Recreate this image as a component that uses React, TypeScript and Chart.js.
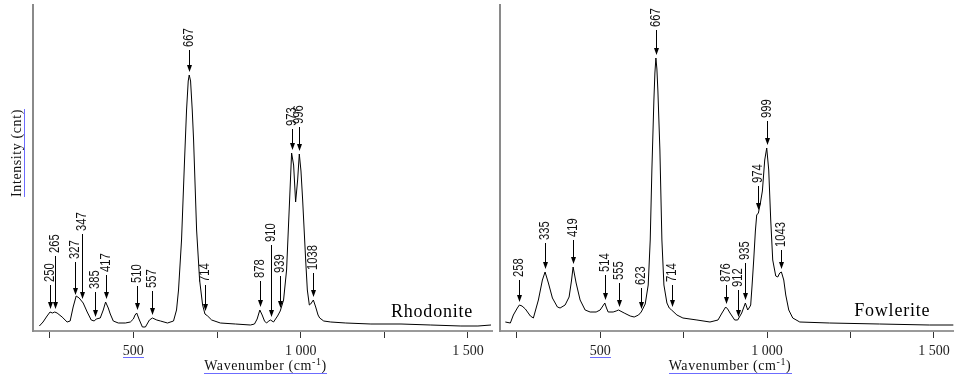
import React, { useEffect, useRef } from "react";
import { Chart, registerables } from "chart.js";
Chart.register(...registerables);

// ---- data (wavenumber cm-1, intensity arbitrary counts) ----
const rhodoniteWavenumber = [
  219, 230, 242, 251, 258, 265, 272, 287, 302, 311, 320, 329, 338, 350, 362, 374, 383, 389, 401, 410,
  417, 425, 431, 440, 455, 476, 491, 500, 505, 510, 518, 527, 536, 548, 557, 570, 581, 602, 620, 629,
  635, 644, 653, 659, 664, 667, 671, 676, 680, 689, 698, 707, 714, 722, 734, 760, 805, 850, 862, 870,
  878, 885, 892, 898, 905, 910, 919, 931, 939, 949, 958, 967, 973, 979, 985, 991, 996, 1001, 1006, 1015,
  1020, 1026, 1030, 1038, 1045, 1052, 1057, 1069, 1090, 1135, 1210, 1300, 1389, 1479, 1530, 1569,
];
const rhodoniteIntensity = [
  5, 9, 15, 19, 18, 19, 18, 14, 9, 10, 24, 35, 33, 28, 19, 11, 10, 12, 13, 21,
  29, 23, 17, 10, 8, 8, 9, 12, 16, 18, 11, 4, 4, 11, 13, 11, 10, 8, 10, 21,
  41, 91, 171, 221, 250, 256, 250, 221, 191, 101, 51, 26, 17, 15, 11, 8, 7, 6, 7, 12,
  21, 16, 10, 8, 10, 11, 9, 15, 20, 31, 61, 131, 178, 166, 129, 151, 177, 160, 131, 71,
  41, 26, 27, 31, 24, 16, 13, 10, 9, 8, 7, 7, 6, 5, 5, 6,
];
const fowleriteWavenumber = [
  216, 231, 240, 252, 258, 266, 276, 291, 300, 315, 327, 335, 345, 357, 372, 380, 395, 407, 414, 419,
  428, 440, 455, 470, 488, 500, 508, 514, 519, 524, 539, 548, 555, 572, 590, 602, 615, 623, 635, 644,
  650, 655, 661, 664, 667, 670, 673, 679, 685, 691, 700, 707, 714, 730, 748, 790, 829, 853, 865, 876,
  882, 889, 903, 912, 924, 935, 942, 948, 951, 955, 960, 965, 969, 974, 980, 986, 993, 999, 1005, 1011,
  1017, 1026, 1032, 1038, 1043, 1050, 1056, 1065, 1077, 1098, 1187, 1337, 1486, 1558,
];
const fowleriteIntensity = [
  9, 8, 16, 23, 26, 25, 22, 15, 13, 31, 51, 59, 48, 33, 24, 23, 26, 34, 50, 64,
  48, 31, 21, 19, 19, 21, 25, 28, 23, 19, 19, 20, 21, 18, 15, 14, 16, 19, 27, 46,
  91, 161, 231, 258, 273, 262, 240, 181, 91, 46, 28, 23, 21, 16, 13, 11, 9, 11, 18, 24,
  22, 18, 11, 11, 18, 28, 21, 24, 26, 45, 71, 100, 116, 118, 128, 140, 171, 183, 161, 111,
  71, 55, 54, 58, 59, 51, 36, 21, 13, 9, 8, 7, 6, 6,
];

// peak annotations
const rhodonitePeaks = [250, 265, 327, 347, 385, 417, 510, 557, 667, 714, 878, 910, 939, 973, 996, 1038];
const fowleritePeaks = [258, 335, 419, 514, 555, 623, 667, 714, 876, 912, 935, 974, 999, 1043];

// label offsets above the curve (layout only)
const rhodoniteLabelLift = [30, 59, 39, 71, 31, 30, 30, 30, 28, 32, 32, 78, 38, 27, 30, 30];
const fowleriteLabelLift = [28, 32, 30, 31, 30, 27, 31, 28, 25, 33, 43, 30, 30, 25];

const xTickValues = [250, 500, 750, 1000, 1250, 1500];
const xTickLabels = ["", "500", "", "1 000", "", "1 500"];
const yTitle = "Intensity (cnt)";
const xTitleMain = "Wavenumber (cm";
const xTitleSup = "-1";
const xTitleEnd = ")";

const SERIF = '"Liberation Serif", "Times New Roman", serif';
const SANS = '"Liberation Sans", Arial, sans-serif';
const LINK_BLUE = "#6c6cff";

function interp(xs: number[], ys: number[], v: number): number {
  for (let i = 0; i < xs.length - 1; i++) {
    if (v >= xs[i] && v <= xs[i + 1]) {
      return ys[i] + ((ys[i + 1] - ys[i]) * (v - xs[i])) / (xs[i + 1] - xs[i]);
    }
  }
  return ys[ys.length - 1];
}

type Panel = {
  id: string;
  wn: number[];
  inten: number[];
  peaks: number[];
  lifts: number[];
  name: string;
  nameAt: [number, number];
  xMin: number;
  xMax: number;
  padLeft: number;
  padRight: number;
  showYTitle: boolean;
};

function makePlugin(p: Panel) {
  return {
    id: "annot_" + p.id,
    afterDraw(chart: any) {
      const { ctx, chartArea } = chart;
      const xs = chart.scales.x;
      const ys = chart.scales.y;
      ctx.save();
      // peak arrows and labels
      p.peaks.forEach((pk, i) => {
        const val = interp(p.wn, p.inten, pk);
        const px = Math.round(xs.getPixelForValue(pk)) + 0.5;
        const py = ys.getPixelForValue(val);
        const tip = Math.round(py - 3);
        const textBottom = Math.round(py - p.lifts[i]);
        ctx.strokeStyle = "#000";
        ctx.fillStyle = "#000";
        ctx.lineWidth = 1;
        ctx.beginPath();
        ctx.moveTo(px, textBottom + 3);
        ctx.lineTo(px, tip - 4);
        ctx.stroke();
        ctx.beginPath();
        ctx.moveTo(px, tip);
        ctx.lineTo(px - 2.5, tip - 7);
        ctx.lineTo(px + 2.5, tip - 7);
        ctx.closePath();
        ctx.fill();
        ctx.save();
        ctx.translate(px, textBottom);
        ctx.rotate(-Math.PI / 2);
        ctx.scale(0.8, 1);
        ctx.font = "14px " + SANS;
        ctx.fillStyle = "#111";
        ctx.textAlign = "left";
        ctx.textBaseline = "middle";
        ctx.fillText(String(pk), 0, 0);
        ctx.restore();
      });

      // panel name
      ctx.font = "18px " + SERIF;
      (ctx as any).letterSpacing = "0.8px";
      ctx.fillStyle = "#000";
      ctx.textAlign = "left";
      ctx.textBaseline = "alphabetic";
      ctx.fillText(p.name, xs.getPixelForValue(p.nameAt[0]), ys.getPixelForValue(p.nameAt[1]));

      // x title with superscript and underline
      (ctx as any).letterSpacing = "0.6px";
      ctx.font = "14px " + SERIF;
      const wMain = ctx.measureText(xTitleMain).width;
      const wEnd = ctx.measureText(xTitleEnd).width;
      ctx.font = "10px " + SERIF;
      const wSup = ctx.measureText(xTitleSup).width;
      const total = wMain + wSup + wEnd;
      const cx = (chartArea.left + chartArea.right) / 2 + 3;
      const x0 = cx - total / 2;
      const base = 370;
      ctx.fillStyle = "#111";
      ctx.font = "14px " + SERIF;
      ctx.fillText(xTitleMain, x0, base);
      ctx.font = "10px " + SERIF;
      ctx.fillText(xTitleSup, x0 + wMain, base - 5);
      ctx.font = "14px " + SERIF;
      ctx.fillText(xTitleEnd, x0 + wMain + wSup, base);
      ctx.fillStyle = LINK_BLUE;
      ctx.fillRect(Math.round(x0), 373, Math.round(total), 1);

      // underline under the "500" tick label
      ctx.font = "14px " + SERIF;
      (ctx as any).letterSpacing = "0px";
      const w500 = ctx.measureText("500").width;
      const x500 = xs.getPixelForValue(500);
      ctx.fillRect(Math.round(x500 - w500 / 2), 357, Math.round(w500), 1);

      // y title
      if (p.showYTitle) {
        ctx.save();
        ctx.translate(21, 153);
        ctx.rotate(-Math.PI / 2);
        ctx.font = "14px " + SERIF;
        (ctx as any).letterSpacing = "0.6px";
        ctx.fillStyle = "#111";
        ctx.textAlign = "center";
        ctx.textBaseline = "alphabetic";
        const wt = ctx.measureText(yTitle).width;
        ctx.fillText(yTitle, 0, 0);
        ctx.fillStyle = LINK_BLUE;
        ctx.fillRect(-wt / 2, 3, wt, 1);
        ctx.restore();
      }
      (ctx as any).letterSpacing = "0px";
      ctx.restore();
    },
  };
}

const panels: Panel[] = [
  {
    id: "rhod",
    wn: rhodoniteWavenumber,
    inten: rhodoniteIntensity,
    peaks: rhodonitePeaks,
    lifts: rhodoniteLabelLift,
    name: "Rhodonite",
    nameAt: [1270, 14],
    xMin: 200,
    xMax: 1572,
    padLeft: 33,
    padRight: 462,
    showYTitle: true,
  },
  {
    id: "fowl",
    wn: fowleriteWavenumber,
    inten: fowleriteIntensity,
    peaks: fowleritePeaks,
    lifts: fowleriteLabelLift,
    name: "Fowlerite",
    nameAt: [1261, 15],
    xMin: 200,
    xMax: 1560,
    padLeft: 500,
    padRight: 0,
    showYTitle: false,
  },
];

function SpectrumPanel({ p }: { p: Panel }) {
  const ref = useRef<HTMLCanvasElement | null>(null);
  useEffect(() => {
    if (!ref.current) return;
    const data = p.wn.map((w, i) => ({ x: w, y: p.inten[i] }));
    const chart = new Chart(ref.current, {
      type: "line",
      data: {
        datasets: [
          {
            data,
            borderColor: "#000",
            borderWidth: 1,
            pointRadius: 0,
            tension: 0,
            fill: false,
          },
        ],
      },
      options: {
        responsive: false,
        animation: false,
        devicePixelRatio: 1,
        layout: { padding: { left: p.padLeft, right: p.padRight, top: 5, bottom: 0 } },
        plugins: { legend: { display: false }, tooltip: { enabled: false }, title: { display: false } },
        scales: {
          x: {
            type: "linear",
            bounds: "data",
            min: p.xMin,
            max: p.xMax,
            afterBuildTicks: (s: any) => {
              s.ticks = xTickValues.map((v) => ({ value: v }));
            },
            afterFit: (s: any) => {
              s.height = 48;
              s.paddingLeft = 0;
              s.paddingRight = 0;
            },
            ticks: {
              autoSkip: false,
              maxRotation: 0,
              padding: 5,
              color: "#222",
              font: { family: SERIF, size: 14 },
              callback: (v: any) => {
                const idx = xTickValues.indexOf(Number(v));
                return idx >= 0 ? xTickLabels[idx] : "";
              },
            },
            grid: { display: true, drawOnChartArea: false, drawTicks: true, tickLength: 7, color: "#333", lineWidth: 1 },
            border: { display: true, color: "#9a9a9a", width: 2 },
          },
          y: {
            type: "linear",
            min: 0,
            max: 326,
            afterFit: (s: any) => {
              s.width = 0;
              s.paddingTop = 0;
              s.paddingBottom = 0;
            },
            ticks: { display: false },
            grid: { display: false },
            border: { display: true, color: "#8a8a8a", width: 2 },
          },
        },
      } as any,
      plugins: [makePlugin(p)],
    });
    return () => chart.destroy();
  }, [p]);
  return (
    <canvas
      ref={ref}
      width={954}
      height={379}
      style={{ position: "absolute", left: 0, top: 0, width: 954, height: 379 }}
    />
  );
}

export default function App() {
  return (
    <div
      style={{
        position: "fixed",
        left: 0,
        top: 0,
        width: 954,
        height: 379,
        overflow: "hidden",
        background: "#fff",
      }}
    >
      {panels.map((p) => (
        <SpectrumPanel key={p.id} p={p} />
      ))}
    </div>
  );
}
